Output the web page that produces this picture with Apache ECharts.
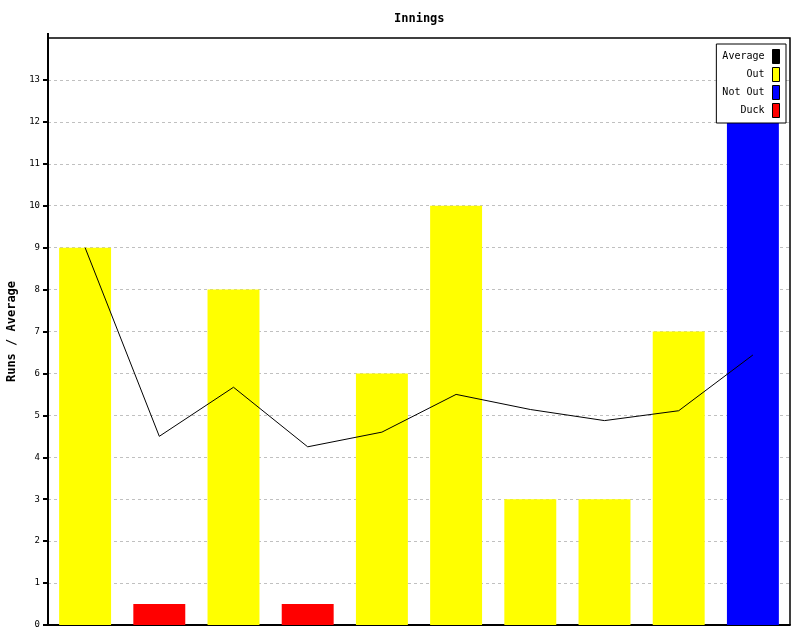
<!DOCTYPE html>
<html><head><meta charset="utf-8">
<script src="https://cdn.jsdelivr.net/npm/echarts@6/dist/echarts.min.js"></script>
<style>html,body{margin:0;padding:0;background:#fff}#c{width:800px;height:640px}</style>
</head><body><div id="c"></div>
<script>
var categories = ['1','2','3','4','5','6','7','8','9','10'];
var outRuns    = [9, null, 8, null, 6, 10, 3, 3, 7, null];
var notOutRuns = [null, null, null, null, null, null, null, null, null, 12];
var duckMarks  = [null, 0.5, null, 0.5, null, null, null, null, null, null];
var average    = [9, 4.5, 5.67, 4.25, 4.6, 5.5, 5.14, 4.875, 5.11, 6.44];
var yTicks     = [0,1,2,3,4,5,6,7,8,9,10,11,12,13];

var FONT = '"DejaVu Sans Mono", monospace';
var chart = echarts.init(document.getElementById('c'));
chart.setOption({
  animation: false,
  title: {text: 'Innings', left: 389, top: 8,
    textStyle: {fontFamily: FONT, fontSize: 12, fontWeight: 'bold', color: '#000'}},
  grid: {left: 48, right: 10, top: 38, bottom: 15, containLabel: false, outerBoundsMode: 'none', show: false},
  legend: {
    data: ['Average', 'Out', 'Not Out', 'Duck'],
    orient: 'vertical', right: 14, top: 44, align: 'right',
    backgroundColor: '#fff', borderColor: '#000', borderWidth: 1,
    padding: [5, 6, 5, 6], itemGap: 3, itemWidth: 7, itemHeight: 14,
    icon: 'rect',
    itemStyle: {borderColor: '#000', borderWidth: 1},
    textStyle: {fontFamily: FONT, fontSize: 10, color: '#000', padding: [0, 3, 0, 0]},
    z: 10
  },
  xAxis: {
    type: 'category', data: categories,
    axisLine: {lineStyle: {color: '#000', width: 2}},
    axisTick: {show: false}, axisLabel: {show: false}
  },
  yAxis: {
    type: 'value', min: 0, max: 14, interval: 1,
    name: 'Runs / Average', nameLocation: 'middle', nameGap: 26,
    nameTextStyle: {fontFamily: FONT, fontSize: 12, fontWeight: 'bold', color: '#000'},
    axisLine: {show: true, lineStyle: {color: '#000', width: 2}},
    axisTick: {show: true, length: 5, customValues: yTicks, lineStyle: {color: '#000', width: 2}},
    axisLabel: {fontFamily: FONT, fontSize: 9, color: '#000', margin: 8, customValues: yTicks},
    splitLine: {show: true, lineStyle: {color: '#c0c0c0', type: [3, 3], width: 1}}
  },
  graphic: [
    {type: 'polyline', z: 5, shape: {points: [[48, 38], [790, 38], [790, 625]]},
     style: {stroke: '#000', lineWidth: 1.5, fill: null}},
    {type: 'line', z: 5, shape: {x1: 48, y1: 33, x2: 48, y2: 38}, style: {stroke: '#000', lineWidth: 2}}
  ],
  series: [
    {name: 'Out', type: 'bar', stack: 'r', data: outRuns, barWidth: '70%',
     itemStyle: {color: '#ffff00'}},
    {name: 'Not Out', type: 'bar', stack: 'r', data: notOutRuns, barWidth: '70%',
     itemStyle: {color: '#0000ff'}},
    {name: 'Duck', type: 'bar', stack: 'r', data: duckMarks, barWidth: '70%',
     itemStyle: {color: '#ff0000'}},
    {name: 'Average', type: 'line', data: average, symbol: 'none',
     itemStyle: {color: '#000'}, lineStyle: {color: '#000', width: 1}, z: 4}
  ]
});
</script></body></html>
